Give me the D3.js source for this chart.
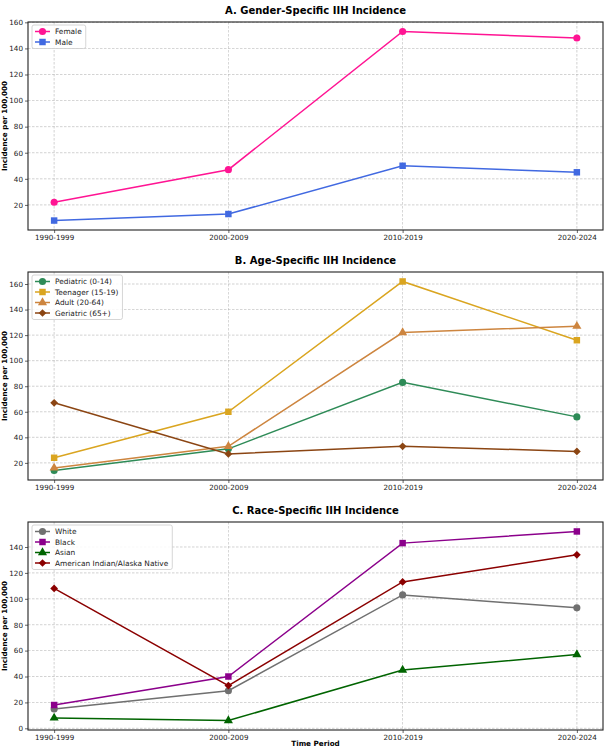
<!DOCTYPE html>
<html>
<head>
<meta charset="utf-8">
<script src="https://cdn.jsdelivr.net/npm/d3@7"></script>
<style>
  body { margin: 0; background: #fff; }
  text { font-family: "DejaVu Sans", sans-serif; }
</style>
</head>
<body>
<script>
// time periods on the x axis
var periods = ["1990-1999", "2000-2009", "2010-2019", "2020-2024"];

// panel A values
var female = [22, 47, 153, 148];
var male = [8, 13, 50, 45];

// panel B values
var pediatric = [14, 31, 83, 56];
var teenager = [24, 60, 162, 116];
var adult = [16, 33, 122, 127];
var geriatric = [67, 27, 33, 29];

// panel C values
var white = [15, 29, 103, 93];
var black = [18, 40, 143, 152];
var asian = [8, 6, 45, 57];
var aian = [108, 33, 113, 134];

var panels = [
  {title: "A. Gender-Specific IIH Incidence", top: 22, series: [
    {name: "Female", values: female, color: "#ff1493", marker: "o"},
    {name: "Male", values: male, color: "#4169e1", marker: "s"}]},
  {title: "B. Age-Specific IIH Incidence", top: 272, series: [
    {name: "Pediatric (0-14)", values: pediatric, color: "#2e8b57", marker: "o"},
    {name: "Teenager (15-19)", values: teenager, color: "#daa520", marker: "s"},
    {name: "Adult (20-64)", values: adult, color: "#cd853f", marker: "^"},
    {name: "Geriatric (65+)", values: geriatric, color: "#8b4513", marker: "D"}]},
  {title: "C. Race-Specific IIH Incidence", top: 522, series: [
    {name: "White", values: white, color: "#707070", marker: "o"},
    {name: "Black", values: black, color: "#8b008b", marker: "s"},
    {name: "Asian", values: asian, color: "#006400", marker: "^"},
    {name: "American Indian/Alaska Native", values: aian, color: "#8b0000", marker: "D"}]}
];

var W = 605, H = 750;
var left = 28, right = 603, plotH = 208;

var svg = d3.select("body").append("svg")
    .attr("width", W)
    .attr("height", H);

// matplotlib-like marker shapes
var markerPath = function(m) {
  if (m === "o") return d3.symbol().type(d3.symbolCircle).size(40)();
  if (m === "s") return d3.symbol().type(d3.symbolSquare).size(42)();
  if (m === "^") return d3.symbol().type(d3.symbolTriangle).size(36)();
  return d3.symbol().type(d3.symbolSquare).size(30)();
};
var markerRot = function(m) { return m === "D" ? "rotate(45)" : ""; };

panels.forEach(function(p, i) {
  var all = [];
  p.series.forEach(function(s) { all = all.concat(s.values); });
  var lo = d3.min(all), hi = d3.max(all), pad = (hi - lo) * 0.05;

  var x = d3.scaleLinear().domain([-0.15, 3.15]).range([left, right]);
  var y = d3.scaleLinear().domain([lo - pad, hi + pad]).range([p.top + plotH, p.top]);

  var g = svg.append("g");

  // ticks at multiples of 20 inside the domain
  var yTicks = d3.range(0, 200, 20).filter(function(v) { return v >= y.domain()[0] && v <= y.domain()[1]; });

  // grid
  g.append("g").selectAll("line.gy").data(yTicks).enter().append("line")
      .attr("x1", left).attr("x2", right)
      .attr("y1", function(d) { return y(d); }).attr("y2", function(d) { return y(d); })
      .attr("stroke", "#b0b0b0").attr("stroke-width", 0.7)
      .attr("stroke-dasharray", "2.5,1.5").attr("opacity", 0.8);
  g.append("g").selectAll("line.gx").data(d3.range(periods.length)).enter().append("line")
      .attr("y1", p.top).attr("y2", p.top + plotH)
      .attr("x1", function(d) { return x(d); }).attr("x2", function(d) { return x(d); })
      .attr("stroke", "#b0b0b0").attr("stroke-width", 0.7)
      .attr("stroke-dasharray", "2.5,1.5").attr("opacity", 0.8);

  // axes
  var xAxis = g.append("g")
      .attr("transform", "translate(0," + (p.top + plotH) + ")")
      .call(d3.axisBottom(x).tickValues(d3.range(periods.length))
        .tickFormat(function(d) { return periods[d]; }).tickSize(3).tickPadding(2));
  var yAxis = g.append("g")
      .attr("transform", "translate(" + left + ",0)")
      .call(d3.axisLeft(y).tickValues(yTicks).tickSize(3).tickPadding(2));
  [xAxis, yAxis].forEach(function(a) {
    a.select(".domain").remove();
    a.selectAll("text").attr("font-size", 7.2).attr("fill", "#222")
      .attr("font-family", "DejaVu Sans, sans-serif");
    a.selectAll("line").attr("stroke", "#222").attr("stroke-width", 0.7);
  });

  // lines and markers
  var line = d3.line()
      .x(function(d, j) { return x(j); })
      .y(function(d) { return y(d); });
  p.series.forEach(function(s) {
    g.append("path")
        .datum(s.values)
        .attr("d", line)
        .attr("fill", "none")
        .attr("stroke", s.color)
        .attr("stroke-width", 1.5);
    g.selectAll(null).data(s.values).enter().append("path")
        .attr("d", markerPath(s.marker))
        .attr("transform", function(d, j) { return "translate(" + x(j) + "," + y(d) + ")" + markerRot(s.marker); })
        .attr("fill", s.color);
  });

  // frame
  g.append("rect")
      .attr("x", left).attr("y", p.top)
      .attr("width", right - left).attr("height", plotH)
      .attr("fill", "none").attr("stroke", "#222").attr("stroke-width", 1.1);

  // title
  g.append("text")
      .attr("x", (left + right) / 2).attr("y", p.top - 8)
      .attr("text-anchor", "middle")
      .attr("font-size", 10).attr("font-weight", "bold")
      .text(p.title);

  // y label
  g.append("text")
      .attr("text-anchor", "middle")
      .attr("transform", "translate(7," + (p.top + plotH / 2) + ")rotate(-90)")
      .attr("font-size", 7.2).attr("font-weight", "bold")
      .text("Incidence per 100,000");

  // legend
  var lg = g.append("g").attr("transform", "translate(32," + (p.top + 3) + ")");
  var box = lg.append("rect")
      .attr("rx", 2).attr("fill", "#fff").attr("fill-opacity", 0.85)
      .attr("stroke", "#ccc").attr("stroke-width", 0.8);
  var maxW = 0;
  p.series.forEach(function(s, k) {
    var cy = 6.5 + k * 10.5;
    lg.append("line")
        .attr("x1", 3).attr("x2", 18).attr("y1", cy).attr("y2", cy)
        .attr("stroke", s.color).attr("stroke-width", 1.5);
    lg.append("path")
        .attr("d", markerPath(s.marker))
        .attr("transform", "translate(10.5," + cy + ")" + markerRot(s.marker))
        .attr("fill", s.color);
    var t = lg.append("text")
        .attr("x", 23).attr("y", cy + 2.6)
        .attr("font-size", 7.4).attr("fill", "#222")
        .text(s.name);
    maxW = Math.max(maxW, t.node().getComputedTextLength());
  });
  box.attr("width", 23 + maxW + 4).attr("height", p.series.length * 10.5 + 2.5);

  if (i === panels.length - 1) {
    g.append("text")
        .attr("x", (left + right) / 2).attr("y", 746)
        .attr("text-anchor", "middle")
        .attr("font-size", 7.2).attr("font-weight", "bold")
        .text("Time Period");
  }
});
</script>
</body>
</html>
